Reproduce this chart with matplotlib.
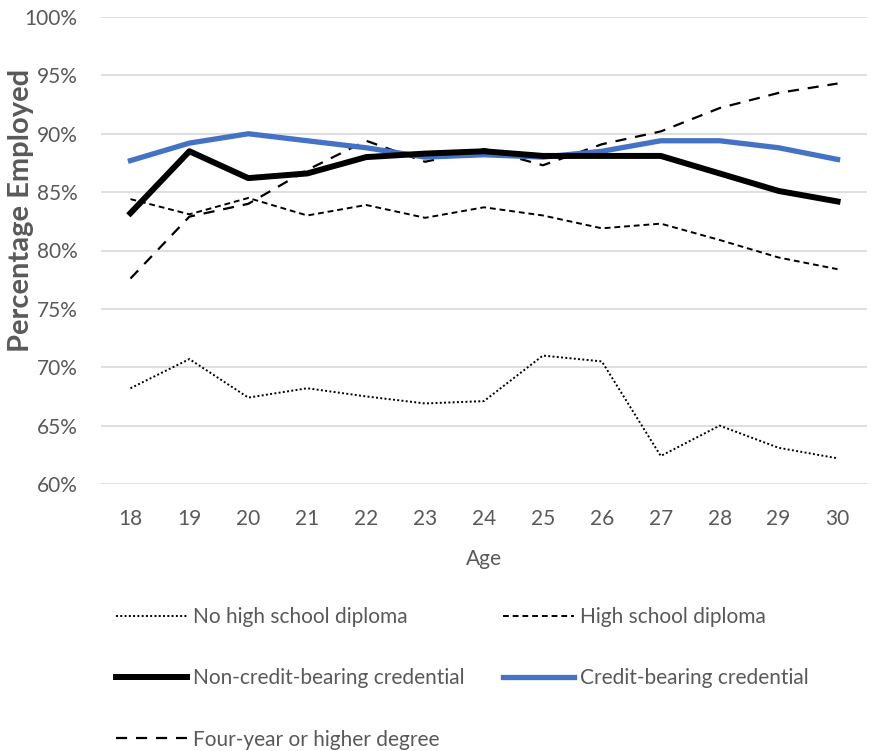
import matplotlib.pyplot as plt
from matplotlib.ticker import PercentFormatter

ages = [18, 19, 20, 21, 22, 23, 24, 25, 26, 27, 28, 29, 30]
no_hs = [68.2, 70.7, 67.4, 68.2, 67.5, 66.9, 67.1, 71.0, 70.5, 62.4, 65.0, 63.1, 62.2]
hs_diploma = [84.4, 83.1, 84.5, 83.0, 83.9, 82.8, 83.7, 83.0, 81.9, 82.3, 80.9, 79.4, 78.4]
non_credit = [83.2, 88.5, 86.2, 86.6, 88.0, 88.3, 88.5, 88.1, 88.1, 88.1, 86.6, 85.1, 84.2]
credit = [87.7, 89.2, 90.0, 89.4, 88.8, 88.0, 88.2, 88.0, 88.5, 89.4, 89.4, 88.8, 87.8]
four_year = [77.6, 82.9, 84.0, 86.9, 89.4, 87.6, 88.7, 87.3, 89.1, 90.2, 92.2, 93.5, 94.3]
yticks = [60, 65, 70, 75, 80, 85, 90, 95, 100]

plt.rcParams["font.family"] = ["Lato", "DejaVu Sans"]
grey = "#595959"

fig = plt.figure(figsize=(8.76, 7.51), dpi=100)
ax = fig.add_axes((101 / 876, 1 - 484 / 751, 766 / 876, 467 / 751))

h_nohs, = ax.plot(ages, no_hs, color="black", lw=1.4, ls=(0, (1, 1.2)),
                  label="No high school diploma")
h_hs, = ax.plot(ages, hs_diploma, color="black", lw=1.4, ls=(0, (3, 2)),
                label="High school diploma")
h_four, = ax.plot(ages, four_year, color="black", lw=1.6, ls=(0, (5, 4)),
                  label="Four-year or higher degree")
h_credit, = ax.plot(ages, credit, color="#4472C4", lw=3.8,
                    label="Credit-bearing credential")
h_nc, = ax.plot(ages, non_credit, color="black", lw=4.3,
                label="Non-credit-bearing credential")

ax.set_xlim(17.5, 30.5)
ax.set_ylim(60, 100)
ax.set_xticks(ages)
ax.set_yticks(yticks)
ax.yaxis.set_major_formatter(PercentFormatter(decimals=0))
ax.grid(axis="y", color="#D9D9D9", lw=1.2)
ax.set_axisbelow(True)
for s in ax.spines.values():
    s.set_visible(False)
ax.tick_params(axis="both", length=0, labelsize=15, labelcolor=grey)
ax.tick_params(axis="x", pad=18)
ax.tick_params(axis="y", pad=17)

ax.set_xlabel("Age", fontsize=15, color=grey)
ax.xaxis.set_label_coords(0.5, -0.14)
ax.set_ylabel("Percentage Employed", fontsize=21, color=grey, fontweight="bold")
ax.yaxis.set_label_coords(-0.087, 0.585)

handles = [h_nohs, h_nc, h_four, h_hs, h_credit]
fig.legend(handles=handles, labels=[h.get_label() for h in handles],
           ncol=2, loc="upper left", bbox_to_anchor=(116 / 876, 1 - 607 / 751),
           frameon=False, fontsize=15, labelcolor=grey, borderpad=0,
           borderaxespad=0, handlelength=3.4, handletextpad=0.3,
           labelspacing=1.98, columnspacing=1.85)

fig.savefig("out.png", dpi=100)
